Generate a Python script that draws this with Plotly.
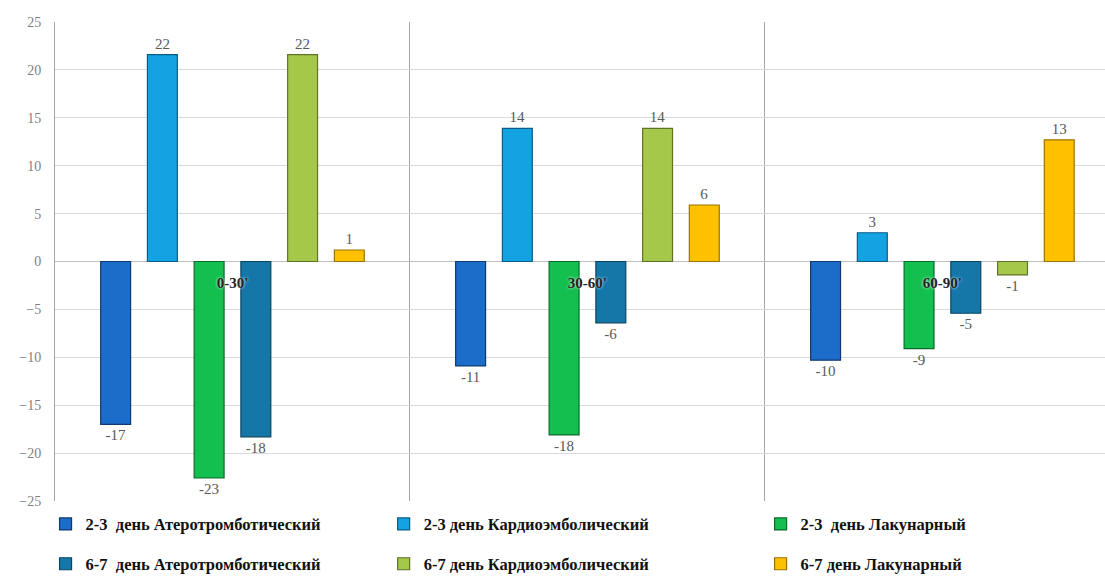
import plotly.graph_objects as go

categories = ["0-30'", "30-60'", "60-90'"]
series_names = [
    "2-3  день Атеротромботический",
    "2-3 день Кардиоэмболический",
    "2-3  день Лакунарный",
    "6-7  день Атеротромботический",
    "6-7 день Кардиоэмболический",
    "6-7 день Лакунарный",
]
ath_23 = [-17.0, -10.9, -10.3]
card_23 = [21.6, 13.9, 3.0]
lac_23 = [-22.6, -18.1, -9.1]
ath_67 = [-18.3, -6.4, -5.4]
card_67 = [21.6, 13.9, -1.4]
lac_67 = [1.2, 5.9, 12.7]
series_values = [ath_23, card_23, lac_23, ath_67, card_67, lac_67]
y_ticks = [-25, -20, -15, -10, -5, 0, 5, 10, 15, 20, 25]

colors = ["#1C6DC9", "#14A3E2", "#13BF4E", "#1477A8", "#A6C84A", "#FFC000"]
edges = ["#0E3A6E", "#0B5C84", "#0A6B2A", "#0B4463", "#5E7328", "#9A7400"]

legend_ids = ["legend", "legend2", "legend3", "legend4", "legend5", "legend6"]
legend_x = [-0.009, 0.313, 0.672, -0.009, 0.313, 0.672]
legend_y = [-0.012, -0.012, -0.012, -0.095, -0.095, -0.095]

fig = go.Figure()
for name, vals, c, e, lg in zip(series_names, series_values, colors, edges, legend_ids):
    fig.add_trace(go.Bar(
        x=categories, y=vals, name=name,
        marker=dict(color=c, line=dict(color=e, width=1.2)),
        texttemplate="%{y:.0f}", textposition="outside",
        textfont=dict(family="Liberation Serif", size=15, color="#595959"),
        cliponaxis=False, legend=lg,
    ))

legend_font = dict(family="Liberation Serif", size=16.5, color="#111111", weight="bold")
layout_legends = {}
for lg, lx, ly in zip(legend_ids, legend_x, legend_y):
    layout_legends[lg] = dict(orientation="h", x=lx, y=ly, xanchor="left", yanchor="top",
                              font=legend_font, itemwidth=30, bgcolor="rgba(0,0,0,0)")

fig.update_layout(
    width=1105, height=582,
    margin=dict(l=55, r=0, t=22, b=81, autoexpand=False),
    paper_bgcolor="white", plot_bgcolor="white",
    barmode="group", bargap=0.21, bargroupgap=0.36,
    showlegend=True,
    **layout_legends,
)
fig.update_yaxes(
    range=[-25, 25], tickvals=y_ticks, showgrid=True, gridcolor="#D9D9D9", gridwidth=1,
    zeroline=True, zerolinecolor="#BFBFBF", zerolinewidth=1,
    showline=True, linecolor="#A6A6A6", linewidth=1,
    tickfont=dict(family="Liberation Serif", size=14, color="#7F7F7F"),
    ticklabelstandoff=10,
)
fig.update_xaxes(
    range=[-0.5, 2.458], anchor="free", position=0.5,
    tickson="boundaries", showgrid=True, gridcolor="#A6A6A6", gridwidth=1,
    showline=False, ticks="", ticklabelstandoff=10,
    tickfont=dict(family="Liberation Serif", size=15, color="#222222", weight="bold",
                  shadow="0px 0px 3px white"),
)
fig.write_html("out.html")
